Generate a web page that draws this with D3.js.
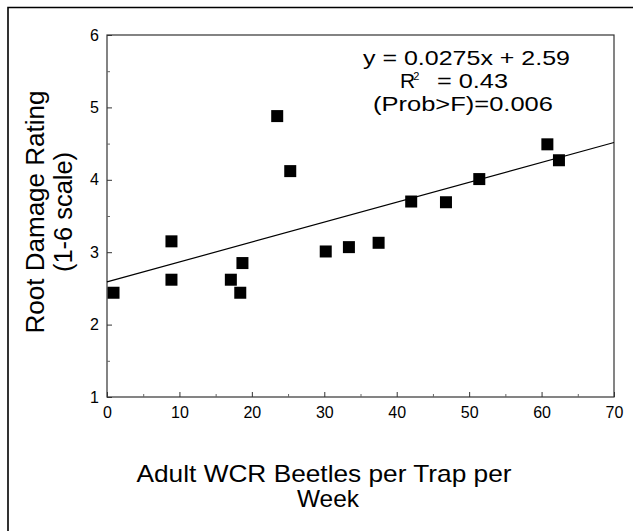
<!DOCTYPE html>
<html>
<head>
<meta charset="utf-8">
<script src="https://cdn.jsdelivr.net/npm/d3@7"></script>
<style>
  html, body { margin: 0; padding: 0; background: #fff; }
  svg { display: block; font-family: "Liberation Sans", Arial, sans-serif; }
</style>
</head>
<body>
<script>
// ---- data ----
const beetles = [0.9, 8.9, 8.9, 17.1, 18.4, 18.7, 23.5, 25.3, 30.2, 33.4, 37.5, 42.0, 46.8, 51.4, 60.8, 62.4];
const rating  = [2.44, 3.15, 2.62, 2.62, 2.44, 2.85, 4.88, 4.12, 3.01, 3.07, 3.13, 3.70, 3.69, 4.01, 4.49, 4.27];
const xTicks = [0, 10, 20, 30, 40, 50, 60, 70];
const xMinorTicks = [5, 15, 25, 35, 45, 55, 65];
const yTicks = [1, 2, 3, 4, 5, 6];
const yMinorTicks = [1.5, 2.5, 3.5, 4.5, 5.5];
const fitSlope = 0.0275;
const fitIntercept = 2.59;
const eqLines = ["y = 0.0275x + 2.59", "= 0.43", "(Prob>F)=0.006"];
const yTitle = ["Root Damage Rating", "(1-6 scale)"];
const xTitle = ["Adult WCR Beetles per Trap per", "Week"];

const W = 633, H = 531;
const svg = d3.select("body").append("svg").attr("width", W).attr("height", H);

// outer frame (cropped on right and bottom)
svg.append("path")
  .attr("d", `M8,${H + 5} L8,7.5 L${W + 5},7.5`)
  .attr("fill", "none").attr("stroke", "#000").attr("stroke-width", 1.6);

const x = d3.scaleLinear().domain([0, 70]).range([107, 614]);
const y = d3.scaleLinear().domain([1, 6]).range([397, 35]);

const g = svg.append("g");

// plot box
g.append("rect")
  .attr("x", x(0)).attr("y", y(6))
  .attr("width", x(70) - x(0)).attr("height", y(1) - y(6))
  .attr("fill", "none").attr("stroke", "#333").attr("stroke-width", 1.2);

const fmt = d3.format("d");

// x axis (ticks inward)
const xAxis = d3.axisBottom(x).tickValues(xTicks).tickFormat(fmt).tickSize(-5).tickPadding(10).tickSizeOuter(0);
const xg = g.append("g").attr("transform", `translate(0,${y(1)})`).call(xAxis);
xg.select(".domain").remove();
xg.selectAll("text").attr("font-size", 16).attr("fill", "#000")
  .attr("font-family", "Liberation Sans, Arial, sans-serif");
xg.selectAll("line").attr("stroke", "#333");
const xm = d3.axisBottom(x).tickValues(xMinorTicks).tickSize(-3).tickFormat("").tickSizeOuter(0);
const xmg = g.append("g").attr("transform", `translate(0,${y(1)})`).call(xm);
xmg.select(".domain").remove();
xmg.selectAll("line").attr("stroke", "#666");

// y axis (ticks inward)
const yAxis = d3.axisLeft(y).tickValues(yTicks).tickFormat(fmt).tickSize(-5).tickPadding(8).tickSizeOuter(0);
const yg = g.append("g").attr("transform", `translate(${x(0)},0)`).call(yAxis);
yg.select(".domain").remove();
yg.selectAll("text").attr("font-size", 16).attr("fill", "#000")
  .attr("font-family", "Liberation Sans, Arial, sans-serif");
yg.selectAll("line").attr("stroke", "#333");
const ym = d3.axisLeft(y).tickValues(yMinorTicks).tickSize(-3).tickFormat("").tickSizeOuter(0);
const ymg = g.append("g").attr("transform", `translate(${x(0)},0)`).call(ym);
ymg.select(".domain").remove();
ymg.selectAll("line").attr("stroke", "#666");

// regression line
const fit = v => fitIntercept + fitSlope * v;
g.append("line")
  .attr("x1", x(0)).attr("y1", y(fit(0)))
  .attr("x2", x(70)).attr("y2", y(fit(70)))
  .attr("stroke", "#000").attr("stroke-width", 1.2);

// points
const pts = beetles.map((b, i) => ({ b, r: rating[i] }));
const S = 12;
g.selectAll("rect.pt").data(pts).enter().append("rect")
  .attr("class", "pt")
  .attr("x", d => x(d.b) - S / 2).attr("y", d => y(d.r) - S / 2)
  .attr("width", S).attr("height", S).attr("fill", "#000");

// equation text
const eq = svg.append("g").attr("font-size", 21).attr("fill", "#000");
eq.append("text").attr("x", 363).attr("y", 65)
  .attr("textLength", 207).attr("lengthAdjust", "spacingAndGlyphs").text(eqLines[0]);
const r2 = eq.append("text").attr("x", 400).attr("y", 88);
r2.append("tspan").text("R");
r2.append("tspan").attr("font-size", 11).attr("dx", -2).attr("dy", -8).text("2");
eq.append("text").attr("x", 437).attr("y", 88)
  .attr("textLength", 71).attr("lengthAdjust", "spacingAndGlyphs").text(eqLines[1]);
eq.append("text").attr("x", 373).attr("y", 111)
  .attr("textLength", 180).attr("lengthAdjust", "spacingAndGlyphs").text(eqLines[2]);

// y title
const yt = svg.append("g").attr("font-size", 25).attr("fill", "#000").attr("text-anchor", "middle");
yt.append("text").attr("transform", "translate(44,212) rotate(-90)")
  .attr("textLength", 243).attr("lengthAdjust", "spacingAndGlyphs").text(yTitle[0]);
yt.append("text").attr("transform", "translate(72,212) rotate(-90)")
  .attr("textLength", 120).attr("lengthAdjust", "spacingAndGlyphs").text(yTitle[1]);

// x title
const xt = svg.append("g").attr("font-size", 24).attr("fill", "#000").attr("text-anchor", "middle");
xt.append("text").attr("x", 324).attr("y", 482)
  .attr("textLength", 375).attr("lengthAdjust", "spacingAndGlyphs").text(xTitle[0]);
xt.append("text").attr("x", 328).attr("y", 507)
  .attr("textLength", 62).attr("lengthAdjust", "spacingAndGlyphs").text(xTitle[1]);
</script>
</body>
</html>
